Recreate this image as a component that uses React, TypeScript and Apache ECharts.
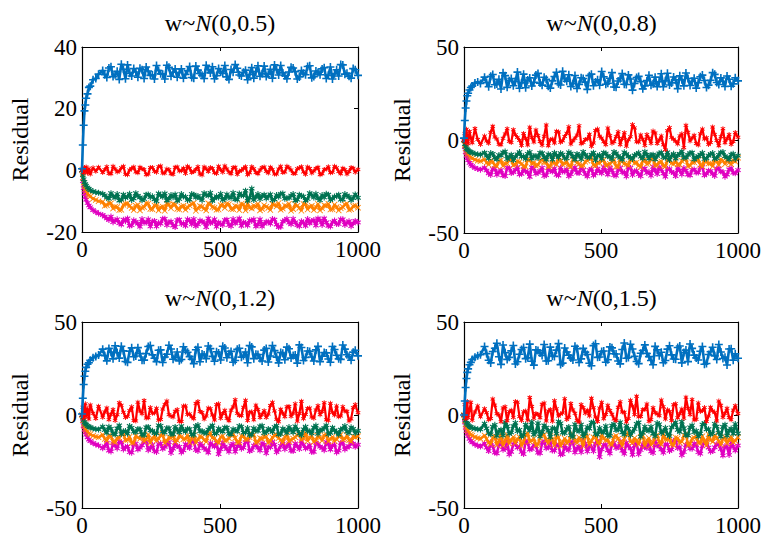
import React, { useEffect, useRef } from "react";
import * as echarts from "echarts";

// sample positions (iteration index), set A
const X = [
  0, 3, 6, 9, 12, 15, 20, 25, 30, 40, 50, 60,
  75, 90, 105, 120, 135, 150, 165, 180, 195, 210,
  225, 240, 255, 270, 285, 300, 315, 330, 345, 360,
  375, 390, 405, 420, 435, 450, 465, 480, 495, 510,
  525, 540, 555, 570, 585, 600, 615, 630, 645, 660,
  675, 690, 705, 720, 735, 750, 765, 780, 795, 810,
  825, 840, 855, 870, 885, 900, 915, 930, 945, 960,
  975, 990, 1000,
];
// sample positions, set B (between the plateau samples of set A)
const XB = [
  82.5, 97.5, 112.5, 127.5, 142.5, 157.5, 172.5, 187.5, 202.5, 217.5,
  232.5, 247.5, 262.5, 277.5, 292.5, 307.5, 322.5, 337.5, 352.5, 367.5,
  382.5, 397.5, 412.5, 427.5, 442.5, 457.5, 472.5, 487.5, 502.5, 517.5,
  532.5, 547.5, 562.5, 577.5, 592.5, 607.5, 622.5, 637.5, 652.5, 667.5,
  682.5, 697.5, 712.5, 727.5, 742.5, 757.5, 772.5, 787.5, 802.5, 817.5,
  832.5, 847.5, 862.5, 877.5, 892.5, 907.5, 922.5, 937.5, 952.5, 967.5,
  982.5,
];

const X_TICKS = [0, 500, 1000];
const TITLES = ["(0,0.5)", "(0,0.8)", "(0,1.2)", "(0,1.5)"];
const Y_RANGES = [
  [-20, 40, 20],
  [-50, 50, 50],
  [-50, 50, 50],
  [-50, 50, 50],
];

// ---------- panel 1: w~N(0,0.5) ----------
const P1_BLUE = [
  0.5, 8.2, 14.6, 19.3, 21.2, 23.4, 24.8, 26.9, 27.3, 29.4, 29.8, 31.2,
  32.4, 30.1, 33.6, 31.0, 29.5, 32.8, 34.2, 30.6, 31.9, 33.1,
  29.8, 32.2, 30.9, 34.0, 31.3, 29.6, 33.4, 31.8, 30.2, 32.9,
  31.1, 33.7, 29.9, 32.5, 30.8, 34.1, 31.6, 29.7, 33.0, 31.4,
  30.3, 32.7, 34.3, 30.9, 31.8, 29.4, 33.3, 32.0, 30.5, 33.8,
  31.2, 29.9, 32.6, 34.0, 30.7, 31.9, 33.2, 29.6, 32.4, 31.0,
  33.9, 30.4, 31.7, 32.9, 29.8, 33.5, 31.3, 30.6, 34.2, 31.5,
  29.9, 32.6, 30.8,
];
const P1_BLUE_B = [
  31.0, 33.2, 30.4, 32.1, 34.4, 29.7, 31.5, 33.0, 30.2, 32.6,
  33.5, 30.8, 29.6, 32.4, 31.2, 34.1, 30.5, 32.9, 31.7, 29.9,
  32.3, 30.1, 33.8, 31.4, 29.8, 32.7, 33.6, 30.7, 31.9, 34.0,
  29.5, 31.8, 33.1, 30.6, 32.5, 31.1, 29.9, 33.9, 31.3, 30.4,
  32.8, 34.2, 30.9, 31.6, 29.7, 33.4, 32.0, 30.3, 31.5, 33.7,
  30.0, 32.2, 31.0, 33.3, 30.8, 29.6, 32.6, 34.3, 31.2, 30.5,
  33.0,
];
const P1_RED = [
  0, 0.6, -0.8, 0.9, -0.4, 1.1, -0.9, 0.5, -1.2, 0.8, -0.3, 1.0,
  -0.7, 1.2, -1.1, 0.4, -0.2, 1.3, -1.4, 0.6, -0.5, 1.0,
  0.3, -1.2, 0.9, -0.6, 1.4, -0.9, 0.2, -1.3, 1.1, -0.1,
  -1.0, 0.7, -0.4, 1.2, -1.5, 0.5, 0.9, -0.8, 1.3, -0.6,
  0.4, -1.1, 1.0, -0.3, 0.6, -1.4, 1.2, -0.7, 0.1, 1.1,
  -0.9, 0.3, -1.2, 1.3, -0.5, 0.8, -1.0, 0.5, 1.2, -1.3,
  0.6, -0.2, 1.0, -1.1, 0.4, -0.8, 1.3, -0.4, 0.7, -1.2,
  0.9, -0.6, 0.3,
];
const P1_RED_B = [
  0.2, -1.0, 1.3, -0.5, 0.8, -1.3, 0.1, 1.1, -0.8, 0.5,
  -1.4, 0.9, -0.3, 1.2, -0.9, 0.4, -1.1, 1.0, -0.2, 0.7,
  1.3, -0.7, 0.3, -1.2, 1.1, -0.4, 0.6, -1.0, 0.2, 1.4,
  -0.6, 0.9, -1.3, 0.0, 1.2, -0.8, 0.5, -1.1, 0.9, -0.3,
  1.0, -1.2, 0.4, -0.7, 1.3, 0.1, -1.0, 0.8, -0.5, 1.1,
  -0.9, 0.6, -1.4, 0.3, 1.2, -0.6, 0.8, -1.1, 0.2, -0.4,
  0.7,
];
const P1_GREEN = [
  0, -1.6, -2.9, -3.8, -4.5, -5.0, -5.6, -6.0, -6.4, -6.8, -7.1, -7.3,
  -7.6, -8.8, -7.4, -8.9, -9.8, -7.9, -8.5, -9.6, -7.4, -8.8,
  -9.3, -7.8, -8.4, -10.0, -8.1, -7.5, -9.2, -8.7, -9.9, -7.7,
  -8.6, -9.5, -7.9, -8.3, -9.7, -8.0, -7.3, -9.1, -8.8, -9.6,
  -7.8, -8.9, -9.4, -7.5, -8.2, -9.9, -5.9, -8.6, -9.3, -7.9,
  -8.4, -9.7, -8.0, -7.6, -9.2, -8.9, -7.7, -9.5, -8.3, -9.8,
  -7.4, -8.8, -9.1, -8.0, -7.6, -9.6, -8.5, -7.9, -9.4, -8.2,
  -9.7, -7.8, -8.9,
];
const P1_GREEN_B = [
  -8.1, -9.2, -8.4, -7.7, -9.5, -8.9, -7.6, -9.1, -8.3, -9.7,
  -7.9, -8.7, -9.4, -7.5, -8.6, -9.8, -8.0, -7.8, -9.3, -8.5,
  -9.6, -7.7, -8.8, -9.0, -7.4, -8.2, -9.9, -8.4, -7.6, -9.2,
  -8.7, -7.3, -9.5, -8.1, -6.6, -8.9, -9.6, -7.7, -8.3, -9.1,
  -7.8, -9.4, -8.6, -7.5, -9.0, -8.2, -9.8, -7.9, -8.5, -9.3,
  -8.0, -7.6, -9.7, -8.8, -7.9, -9.2, -8.4, -9.5, -7.7, -8.6,
  -9.0,
];
const P1_ORANGE = [
  0, -2.4, -4.0, -5.1, -6.0, -6.7, -7.5, -8.1, -8.5, -9.2, -9.6, -10.0,
  -10.2, -11.3, -10.7, -11.8, -12.9, -11.2, -10.7, -12.2, -11.5, -13.0,
  -11.9, -10.8, -12.6, -11.3, -12.0, -13.1, -11.1, -10.9, -12.5, -11.7,
  -12.8, -11.4, -10.6, -12.3, -11.8, -13.0, -11.0, -12.1, -12.7, -11.2,
  -10.8, -12.5, -11.6, -12.9, -11.1, -10.7, -12.4, -11.9, -13.0, -11.3,
  -12.2, -10.9, -11.7, -12.8, -11.4, -10.8, -12.6, -11.5, -13.1, -11.0,
  -11.8, -12.9, -10.9, -12.3, -11.6, -12.7, -11.1, -13.0, -11.9, -10.8,
  -12.6, -11.4, -12.1,
];
const P1_ORANGE_B = [
  -11.5, -10.6, -12.4, -11.9, -12.8, -10.9, -11.6, -12.9, -11.2, -12.1,
  -10.7, -12.5, -11.4, -13.0, -11.8, -10.8, -12.3, -11.1, -12.7, -11.5,
  -12.0, -10.9, -13.1, -11.6, -12.4, -10.7, -11.9, -12.8, -11.3, -12.2,
  -11.0, -12.6, -11.7, -10.9, -13.0, -12.1, -11.4, -10.8, -12.5, -11.8,
  -12.9, -11.2, -10.6, -12.4, -11.7, -13.1, -11.0, -12.2, -10.9, -12.7,
  -11.5, -12.0, -13.0, -11.3, -10.8, -12.6, -11.9, -12.3, -11.1, -12.8,
  -11.6,
];
const P1_MAGENTA = [
  0, -3.5, -5.8, -7.4, -8.6, -9.5, -10.6, -11.4, -12.0, -12.9, -13.5, -14.0,
  -14.5, -15.6, -15.0, -16.3, -17.1, -16.0, -15.6, -17.8, -16.7, -18.3,
  -17.0, -15.9, -16.6, -18.2, -17.3, -15.7, -16.8, -17.9, -16.1, -17.4,
  -18.0, -16.3, -15.8, -17.5, -16.6, -18.4, -17.1, -15.9, -16.9, -17.7,
  -16.0, -18.1, -17.2, -15.6, -16.8, -17.9, -16.4, -18.2, -15.9, -17.3,
  -16.7, -15.8, -17.6, -18.3, -16.2, -17.0, -15.7, -17.8, -16.5, -18.0,
  -17.2, -16.1, -15.6, -17.7, -16.9, -18.2, -16.3, -17.4, -15.9, -17.0,
  -18.1, -16.4, -16.9,
];
const P1_MAGENTA_B = [
  -15.0, -16.1, -16.8, -15.9, -17.6, -16.5, -18.0, -16.2, -17.3, -15.8,
  -16.9, -18.2, -16.4, -17.0, -15.7, -17.8, -16.6, -18.4, -16.0, -17.2,
  -15.9, -17.5, -18.1, -16.3, -17.0, -15.6, -16.8, -18.3, -17.4, -16.1,
  -17.7, -15.8, -16.5, -18.0, -17.1, -16.2, -15.9, -17.6, -18.2, -16.7,
  -17.3, -16.0, -18.4, -16.6, -15.7, -17.5, -16.9, -18.1, -17.0, -15.8,
  -16.4, -17.9, -16.2, -15.6, -18.0, -16.8, -17.4, -15.9, -17.7, -16.5,
  -17.2,
];

// ---------- panel 2: w~N(0,0.8) ----------
const P2_BLUE = [
  1.0, 10.5, 17.2, 21.0, 23.8, 25.1, 26.9, 28.2, 29.0, 30.6, 31.2, 30.4,
  33.8, 28.6, 35.2, 30.1, 27.4, 34.6, 31.9, 29.2, 36.5, 30.7,
  28.1, 33.4, 31.0, 35.8, 29.5, 32.7, 27.9, 34.1, 30.3, 36.9,
  31.6, 28.8, 34.7, 29.9, 33.1, 27.2, 35.4, 31.2, 29.4, 34.0,
  30.5, 36.2, 28.4, 32.9, 30.0, 35.0, 26.8, 33.6, 31.4, 29.1,
  34.8, 30.2, 28.7, 35.6, 31.8, 29.6, 33.9, 27.6, 32.4, 36.0,
  29.3, 33.2, 30.8, 34.9, 28.2, 32.1, 35.3, 29.8, 31.5, 34.4,
  28.9, 33.5, 31.8,
];
const P2_BLUE_B = [
  30.9, 34.3, 29.7, 32.6, 36.1, 28.3, 33.0, 31.5, 27.8, 35.4,
  32.2, 29.0, 34.9, 30.6, 33.7, 28.9, 31.8, 36.4, 29.6, 32.9,
  35.1, 30.3, 27.7, 33.5, 31.1, 34.6, 29.2, 32.4, 36.8, 30.0,
  33.2, 28.5, 31.7, 35.7, 29.8, 32.8, 30.4, 34.2, 27.5, 31.9,
  29.4, 33.8, 31.3, 28.6, 35.9, 30.7, 32.3, 34.5, 29.1, 33.1,
  31.6, 27.9, 34.0, 32.0, 29.5, 36.2, 30.9, 33.4, 28.8, 32.7,
  30.2,
];
const P2_RED = [
  0, 3.5, -1.2, 5.8, 0.4, -2.0, 4.6, 1.1, -1.5, 6.2, 0.3, -2.4,
  2.1, -1.8, 7.4, 0.5, -2.6, 3.2, -0.7, 5.5, 1.4, -3.0,
  0.8, 6.9, -1.1, 2.4, -2.8, 8.1, 0.2, -1.6, 4.3, -0.4,
  3.6, -2.2, 1.0, 7.6, -1.3, 0.6, -3.4, 5.1, 2.0, -0.9,
  6.4, -1.7, 1.8, -2.5, 3.9, 0.1, 8.3, -1.0, 2.7, -2.9,
  0.9, 4.8, -1.9, 2.2, -5.2, 6.7, 0.4, -2.1, 3.3, 7.9,
  -0.6, 2.5, -2.7, 5.9, 1.2, -1.4, 3.0, -3.1, 6.1, 0.7,
  -2.3, 4.0, 1.5,
];
const P2_RED_B = [
  -0.5, 4.2, 1.6, -2.3, 0.9, 6.1, -1.4, 2.8, -0.2, 3.5,
  -2.7, 1.3, 5.4, -0.8, 2.0, -3.1, 0.6, 4.7, -1.2, 1.9,
  7.1, -0.4, 2.6, -2.0, 0.3, 3.1, -1.6, 5.9, 1.0, -2.5,
  2.3, -0.9, 4.4, 0.8, -3.3, 1.7, 6.5, -1.1, 0.4, 2.9,
  -1.8, 3.8, 0.0, -2.6, 5.0, 1.4, -0.7, 2.2, -4.1, 4.1,
  1.1, -1.9, 3.3, 0.5, -2.4, 7.0, -0.3, 1.8, -1.5, 3.0,
  -0.8,
];
const P2_GREEN = [
  0, -2.1, -3.6, -4.5, -5.0, -5.6, -6.2, -6.5, -6.9, -7.4, -7.7, -7.9,
  -6.8, -9.9, -7.5, -10.4, -8.3, -6.2, -9.1, -10.8, -7.7, -8.9,
  -10.1, -6.5, -8.6, -9.7, -7.1, -10.6, -8.0, -6.9, -9.4, -7.8,
  -9.8, -7.3, -10.5, -8.4, -6.4, -9.2, -7.9, -10.9, -8.1, -6.8,
  -8.7, -10.3, -7.2, -9.5, -6.6, -8.8, -10.2, -7.6, -9.0, -6.3,
  -10.0, -7.9, -8.5, -6.7, -9.6, -10.7, -7.4, -8.2, -6.1, -9.3,
  -7.0, -10.4, -8.8, -6.9, -9.9, -7.6, -10.1, -8.0, -6.5, -9.4,
  -7.8, -10.2, -8.4,
];
const P2_GREEN_B = [
  -8.4, -7.0, -9.6, -8.1, -6.7, -10.2, -7.9, -9.0, -6.5, -8.8,
  -7.4, -10.0, -8.6, -6.9, -9.3, -7.7, -10.5, -8.2, -7.1, -9.8,
  -6.6, -8.9, -7.5, -10.3, -8.0, -9.4, -6.8, -8.5, -10.1, -7.3,
  -9.1, -6.4, -8.7, -10.6, -7.6, -9.5, -8.3, -6.9, -9.9, -7.8,
  -8.1, -10.4, -7.2, -9.2, -6.6, -8.6, -10.0, -7.5, -9.6, -8.0,
  -6.8, -9.3, -7.9, -10.2, -8.4, -7.0, -9.7, -6.7, -8.8, -10.5,
  -7.4,
];
const P2_ORANGE = [
  0, -2.8, -4.6, -5.9, -6.9, -7.6, -8.5, -9.3, -9.9, -10.6, -11.1, -11.4,
  -10.4, -13.2, -11.8, -14.1, -10.9, -12.6, -9.8, -13.7, -11.4, -12.9,
  -14.3, -10.7, -12.2, -13.5, -10.2, -11.9, -14.0, -12.5, -9.9, -13.1,
  -11.6, -14.4, -10.5, -12.8, -13.6, -11.1, -9.6, -13.9, -12.3, -10.8,
  -13.3, -11.7, -14.2, -10.3, -12.7, -13.8, -11.0, -12.1, -14.5, -10.6,
  -12.4, -9.7, -13.4, -11.5, -14.1, -10.9, -12.9, -13.2, -11.3, -10.1,
  -13.7, -12.0, -10.4, -14.3, -11.8, -12.6, -9.9, -13.5, -11.2, -10.7,
  -13.0, -11.6, -9.5,
];
const P2_ORANGE_B = [
  -12.2, -10.9, -13.6, -11.3, -14.0, -12.5, -10.6, -13.1, -11.8, -14.2,
  -10.3, -12.7, -13.9, -11.5, -12.0, -14.4, -10.8, -13.3, -11.1, -12.6,
  -13.8, -10.5, -12.3, -14.1, -11.7, -10.1, -13.5, -12.1, -11.0, -13.7,
  -12.8, -10.7, -14.3, -11.6, -13.0, -10.4, -12.4, -13.8, -11.2, -12.9,
  -10.2, -13.6, -11.9, -14.0, -10.9, -12.5, -11.4, -13.2, -10.6, -14.1,
  -12.0, -11.1, -13.4, -10.8, -12.7, -14.2, -11.5, -10.3, -13.0, -12.2,
  -11.0,
];
const P2_MAGENTA = [
  0, -3.9, -6.5, -8.4, -9.8, -10.9, -12.3, -13.3, -14.0, -15.0, -15.6, -16.0,
  -14.8, -17.9, -15.6, -18.7, -16.2, -19.4, -15.1, -17.3, -14.5, -18.2,
  -16.8, -19.8, -15.4, -17.6, -14.9, -18.9, -16.5, -15.2, -19.1, -17.0,
  -15.8, -18.4, -14.7, -17.8, -16.1, -19.6, -15.5, -18.0, -16.9, -14.6,
  -18.6, -16.3, -19.2, -15.0, -17.4, -14.8, -18.8, -16.6, -19.5, -15.3,
  -17.1, -14.4, -18.3, -16.0, -19.7, -15.7, -17.7, -14.9, -18.5, -16.4,
  -19.0, -15.9, -17.5, -14.6, -18.1, -16.7, -19.3, -15.4, -17.2, -18.6,
  -15.1, -17.9, -16.2,
];
const P2_MAGENTA_B = [
  -16.4, -18.8, -15.3, -17.2, -19.0, -14.9, -17.8, -16.0, -18.5, -15.6,
  -17.4, -14.7, -18.1, -16.7, -19.3, -15.2, -17.0, -18.7, -14.8, -16.9,
  -19.5, -15.9, -17.6, -14.5, -18.3, -16.2, -19.1, -15.4, -17.9, -16.6,
  -14.9, -18.9, -16.1, -17.3, -19.6, -15.0, -16.8, -18.4, -15.7, -17.7,
  -19.2, -16.4, -14.6, -18.0, -15.5, -17.1, -19.4, -16.3, -15.1, -18.6,
  -16.0, -17.5, -14.8, -19.0, -16.5, -18.2, -15.3, -17.0, -19.7, -15.8,
  -17.6,
];

// ---------- panel 3: w~N(0,1.2) ----------
const P3_BLUE = [
  0.5, 9.0, 16.4, 20.8, 23.5, 25.6, 27.3, 28.1, 29.4, 30.8, 31.5, 32.2,
  35.4, 29.1, 33.8, 37.2, 30.6, 34.5, 28.3, 36.1, 31.7, 33.0,
  29.5, 36.8, 32.3, 28.7, 35.0, 31.2, 37.5, 30.0, 33.9, 29.8,
  34.7, 31.4, 27.6, 36.4, 32.8, 30.3, 35.7, 28.9, 33.3, 37.0,
  30.8, 34.2, 29.3, 35.9, 31.9, 28.1, 36.6, 32.6, 30.4, 34.9,
  28.5, 37.3, 31.1, 33.6, 29.7, 35.6, 32.0, 27.9, 36.3, 30.9,
  34.1, 29.0, 36.9, 31.6, 33.4, 28.4, 35.2, 30.2, 37.6, 32.4,
  29.4, 34.8, 31.8,
];
const P3_BLUE_B = [
  31.9, 35.8, 30.2, 33.5, 37.0, 28.8, 34.3, 31.3, 36.2, 29.4,
  33.1, 37.4, 30.5, 34.8, 28.2, 32.7, 35.5, 31.0, 29.1, 36.7,
  33.7, 30.0, 35.1, 28.6, 32.2, 37.1, 31.5, 34.0, 29.6, 36.0,
  32.9, 28.4, 35.3, 31.1, 33.9, 37.3, 30.3, 32.5, 29.0, 35.8,
  31.7, 34.6, 28.0, 33.2, 36.5, 30.6, 32.3, 37.7, 29.3, 34.4,
  31.2, 35.0, 28.7, 33.6, 30.1, 36.8, 32.1, 29.9, 35.4, 31.4,
  33.8,
];
const P3_RED = [
  0, 4.2, -1.6, 2.8, 6.0, -0.8, 3.3, -2.2, 5.4, 0.9, -1.9, 4.7,
  -1.2, 3.8, 0.4, -2.9, 6.6, 1.5, -0.7, 4.4, -3.2, 2.1,
  7.8, -1.5, 0.9, 3.6, -2.4, 5.7, 0.2, -1.1, 2.9, -3.5,
  4.9, 0.6, -2.0, 7.2, 1.3, -0.5, 3.4, -2.7, 6.0, 0.8,
  -1.8, 2.6, 8.2, -0.3, 4.1, -3.0, 1.7, 5.3, -1.4, 2.3,
  0.5, 6.8, -2.3, 3.1, -0.9, 4.6, 1.0, -3.3, 7.4, 0.3,
  3.7, -1.7, 5.0, 1.9, -2.6, 6.3, 0.0, -1.0, 4.5, 2.0,
  -2.1, 5.6, 1.2,
];
const P3_RED_B = [
  1.6, -2.5, 3.0, 0.1, 5.2, -1.3, 2.4, -3.0, 6.9, 0.7,
  -1.6, 4.0, 1.1, -2.8, 3.2, 7.5, -0.6, 2.0, -3.4, 4.8,
  0.3, -1.0, 6.2, 1.9, -2.2, 3.7, 0.0, 5.6, -1.8, 2.5,
  -3.1, 4.3, 0.9, -0.4, 7.9, 1.5, -2.6, 3.0, 0.4, -1.3,
  5.1, 2.2, -3.6, 1.0, 4.4, -0.7, 6.0, 0.8, -2.0, 3.5,
  -1.1, 2.7, 0.2, 6.6, -2.9, 1.4, 4.9, -0.5, 2.1, -3.2,
  3.9,
];
const P3_GREEN = [
  0, -1.4, -2.7, -3.8, -4.6, -5.2, -5.9, -6.3, -6.7, -7.2, -7.6, -7.8,
  -6.2, -9.6, -7.4, -10.5, -5.6, -8.8, -10.1, -6.9, -9.2, -7.7,
  -10.8, -6.4, -8.5, -9.9, -5.8, -9.4, -7.1, -10.3, -8.0, -6.0,
  -9.0, -7.6, -10.7, -5.4, -8.6, -9.8, -6.6, -10.0, -7.3, -8.9,
  -6.8, -10.4, -8.2, -5.9, -9.5, -7.0, -10.6, -8.4, -6.1, -9.7,
  -7.5, -9.1, -5.7, -10.2, -8.1, -6.5, -9.3, -7.8, -10.9, -6.3,
  -8.7, -6.7, -10.1, -7.9, -5.5, -9.6, -8.3, -10.5, -7.2, -9.0,
  -6.6, -9.8, -8.5,
];
const P3_GREEN_B = [
  -8.0, -6.3, -9.9, -7.2, -10.3, -8.6, -5.9, -9.0, -7.5, -10.6,
  -6.6, -8.3, -9.7, -5.5, -8.9, -7.0, -10.2, -6.4, -9.3, -8.1,
  -7.4, -10.5, -6.0, -8.7, -9.5, -7.8, -5.6, -9.8, -8.4, -6.7,
  -10.1, -7.6, -8.8, -6.2, -9.4, -10.7, -7.1, -8.5, -5.8, -9.1,
  -8.2, -6.5, -10.4, -7.3, -9.6, -8.0, -6.1, -10.0, -7.7, -8.6,
  -9.9, -5.7, -8.3, -7.0, -10.3, -6.8, -9.2, -7.9, -5.9, -9.7,
  -7.5,
];
const P3_ORANGE = [
  0, -2.7, -4.8, -6.1, -7.3, -8.1, -9.0, -9.8, -10.4, -11.2, -11.7, -12.0,
  -10.6, -13.8, -11.5, -14.7, -12.2, -9.9, -13.4, -15.0, -11.1, -12.8,
  -14.1, -10.4, -12.5, -13.9, -11.0, -15.2, -12.0, -10.2, -13.6, -11.7,
  -12.9, -14.8, -10.7, -13.1, -11.8, -14.4, -9.6, -12.6, -15.1, -11.3,
  -13.7, -10.9, -12.3, -14.6, -11.4, -13.0, -10.1, -14.9, -12.4, -11.6,
  -15.0, -12.1, -10.5, -13.5, -11.9, -14.2, -12.7, -10.8, -13.3, -9.4,
  -12.2, -14.5, -11.2, -13.8, -10.6, -12.9, -14.0, -11.5, -13.2, -10.9,
  -14.3, -12.0, -11.4,
];
const P3_ORANGE_B = [
  -12.9, -11.0, -14.3, -12.4, -10.3, -13.6, -11.7, -14.8, -12.1, -10.6,
  -13.2, -15.0, -11.4, -12.7, -10.0, -13.9, -12.3, -14.5, -11.1, -13.0,
  -10.8, -12.6, -14.9, -11.5, -13.4, -10.4, -12.2, -14.1, -11.8, -13.7,
  -12.5, -10.2, -14.6, -11.3, -13.1, -12.0, -10.7, -14.4, -12.8, -11.6,
  -13.8, -11.0, -12.4, -14.7, -10.5, -13.3, -11.9, -9.8, -12.6, -14.0,
  -11.2, -13.5, -12.1, -10.9, -14.2, -11.7, -13.0, -10.6, -12.9, -13.6,
  -11.5,
];
const P3_MAGENTA = [
  0, -3.5, -6.0, -7.9, -9.4, -10.6, -12.0, -13.2, -14.0, -15.1, -15.8, -16.4,
  -17.9, -15.0, -19.6, -16.4, -14.2, -18.5, -16.9, -20.3, -15.5, -17.6,
  -13.8, -18.9, -16.1, -19.9, -15.3, -17.2, -14.6, -18.1, -16.7, -20.1,
  -15.7, -17.8, -14.0, -19.3, -16.5, -18.7, -15.1, -17.0, -21.0, -14.8,
  -18.2, -16.3, -19.7, -15.4, -17.5, -13.9, -18.8, -16.0, -19.1, -15.9,
  -17.3, -14.4, -20.0, -16.6, -18.4, -15.2, -19.4, -16.8, -14.1, -18.0,
  -16.2, -19.8, -15.6, -17.7, -14.5, -18.6, -16.0, -19.2, -15.0, -17.4,
  -13.9, -17.1, -16.0,
];
const P3_MAGENTA_B = [
  -16.8, -19.1, -15.2, -18.0, -14.7, -17.4, -20.0, -15.8, -18.6, -16.3,
  -14.4, -17.7, -19.5, -15.6, -18.2, -16.0, -20.4, -14.9, -17.1, -19.0,
  -16.6, -14.3, -18.8, -15.4, -17.9, -20.2, -16.2, -14.8, -18.4, -17.0,
  -19.7, -15.5, -16.9, -18.1, -14.6, -19.4, -16.4, -17.6, -15.1, -20.5,
  -17.3, -15.9, -18.7, -14.2, -16.7, -19.2, -15.3, -18.3, -16.1, -17.5,
  -19.9, -14.9, -17.0, -18.9, -15.7, -16.5, -20.1, -15.0, -18.5, -16.9,
  -15.4,
];

// ---------- panel 4: w~N(0,1.5) ----------
const P4_BLUE = [
  0.0, 7.5, 14.8, 19.6, 22.9, 24.8, 27.0, 28.3, 29.8, 31.0, 31.9, 32.4,
  36.8, 29.4, 34.1, 38.6, 27.2, 33.5, 31.0, 37.4, 28.6, 35.2,
  30.3, 38.1, 26.8, 34.7, 32.0, 29.0, 36.5, 31.5, 38.4, 27.9,
  33.9, 30.6, 37.0, 28.2, 35.8, 32.5, 26.5, 38.3, 31.2, 34.4,
  29.7, 36.1, 32.8, 27.5, 38.7, 30.9, 35.5, 28.8, 33.2, 37.7,
  31.4, 27.0, 35.0, 33.7, 29.3, 37.2, 30.1, 36.3, 28.0, 34.9,
  38.2, 32.2, 29.6, 36.8, 27.7, 34.0, 31.8, 37.9, 30.4, 26.9,
  35.6, 32.9, 30.5,
];
const P4_BLUE_B = [
  33.0, 28.0, 35.9, 31.3, 37.6, 29.9, 34.5, 27.4, 32.7, 36.3,
  30.8, 28.9, 35.0, 33.4, 37.9, 29.2, 31.7, 34.9, 27.1, 36.0,
  32.1, 29.6, 35.7, 30.2, 33.8, 27.8, 37.3, 31.0, 34.1, 28.4,
  36.6, 32.9, 29.0, 35.2, 30.5, 38.0, 31.6, 27.6, 34.7, 33.1,
  29.3, 36.9, 31.9, 28.1, 35.4, 32.3, 30.0, 37.1, 33.6, 28.7,
  35.8, 30.7, 34.3, 27.3, 32.5, 36.4, 29.8, 33.9, 31.1, 35.5,
  29.5,
];
const P4_RED = [
  0, 5.6, -2.0, 3.1, 7.2, -1.4, 2.5, 6.8, -2.8, 1.6, 4.9, -1.0,
  3.4, -2.5, 8.6, 0.7, -3.6, 4.5, 1.8, -1.3, 6.9, -2.9,
  2.2, 9.4, -1.7, 0.3, 5.8, -3.2, 3.0, 7.7, -0.6, 1.1,
  -2.4, 6.2, 0.9, -3.8, 4.0, 2.6, 9.0, -1.1, 3.7, -2.0,
  5.2, 0.4, -3.0, 7.1, 1.5, -1.9, 4.8, 10.1, -0.8, 2.9,
  -3.4, 3.9, 0.6, 8.0, -2.2, 1.9, 5.5, -1.5, 3.2, 9.6,
  0.2, -2.7, 6.5, 2.4, -3.5, 4.2, 1.3, 7.5, -1.2, 3.6,
  -2.6, 5.0, 0.8,
];
const P4_RED_B = [
  1.2, -1.9, 5.3, 0.0, 3.8, -3.1, 2.6, 7.2, -0.9, 1.7,
  -2.8, 4.6, 0.8, -1.5, 6.4, 2.1, -3.3, 3.3, 0.5, 8.8,
  -1.2, 2.7, -2.9, 5.6, 1.0, -0.5, 3.9, -3.5, 6.8, 0.3,
  2.4, -2.1, 4.1, 1.6, -3.7, 7.9, 0.2, -1.0, 3.0, 5.9,
  -2.5, 1.3, -0.4, 4.5, 2.8, -3.0, 6.1, 0.7, -1.7, 3.6,
  8.4, -2.3, 1.9, 4.0, -0.6, 2.2, -3.2, 5.2, 0.9, -1.4,
  2.6,
];
const P4_GREEN = [
  0, -1.8, -3.0, -4.2, -4.8, -5.5, -6.1, -6.5, -7.0, -7.3, -7.6, -7.8,
  -4.6, -9.8, -6.3, -11.2, -7.9, -3.8, -10.1, -6.0, -8.7, -11.6,
  -5.2, -8.3, -10.6, -4.4, -9.1, -6.8, -11.9, -7.2, -3.5, -9.5,
  -7.6, -10.9, -5.0, -8.8, -11.4, -6.5, -4.1, -10.2, -7.0, -9.3,
  -11.0, -5.7, -8.1, -3.9, -10.5, -7.4, -9.0, -4.8, -11.7, -6.2,
  -8.5, -10.0, -4.3, -9.7, -6.9, -11.3, -5.4, -8.0, -3.6, -10.8,
  -6.6, -9.2, -11.5, -5.1, -7.7, -10.4, -4.7, -9.6, -6.4, -11.1,
  -7.3, -4.9, -9.9,
];
const P4_GREEN_B = [
  -7.2, -10.4, -5.3, -8.6, -11.0, -6.1, -9.4, -4.2, -8.0, -10.7,
  -6.7, -3.7, -9.0, -11.5, -5.6, -8.4, -7.0, -10.1, -4.5, -9.7,
  -6.4, -11.8, -8.2, -5.1, -9.9, -7.3, -3.8, -10.6, -8.9, -6.0,
  -11.2, -4.9, -7.8, -9.3, -5.8, -10.9, -7.5, -4.0, -9.6, -8.1,
  -6.3, -11.4, -5.0, -8.7, -10.3, -6.6, -3.9, -9.1, -7.1, -11.0,
  -5.5, -8.5, -10.0, -4.4, -7.6, -9.8, -6.2, -11.6, -5.2, -8.3,
  -10.1,
];
const P4_ORANGE = [
  0, -3.0, -5.2, -6.6, -7.8, -8.7, -9.7, -10.5, -11.1, -11.9, -12.4, -12.8,
  -11.0, -14.9, -12.3, -16.1, -10.2, -13.7, -15.4, -11.8, -13.0, -16.6,
  -10.6, -14.2, -12.7, -15.8, -9.8, -13.4, -11.3, -16.3, -12.1, -14.6,
  -15.2, -10.9, -13.9, -12.0, -16.8, -11.5, -14.0, -10.3, -15.6, -12.6,
  -13.3, -16.0, -11.1, -14.4, -12.9, -9.6, -15.0, -13.6, -11.7, -16.5,
  -12.4, -14.8, -10.7, -15.9, -13.1, -11.9, -16.2, -12.5, -14.3, -10.1,
  -15.5, -12.2, -14.7, -11.4, -16.4, -13.5, -10.8, -14.1, -12.8, -15.3,
  -11.6, -13.8, -12.0,
];
const P4_ORANGE_B = [
  -12.9, -15.6, -11.4, -14.0, -16.4, -10.5, -13.3, -15.1, -11.9, -14.5,
  -9.9, -13.8, -16.2, -12.2, -10.8, -15.3, -13.0, -11.6, -16.7, -12.6,
  -14.3, -10.1, -15.0, -13.4, -11.2, -16.0, -12.0, -14.8, -10.6, -13.7,
  -15.5, -11.8, -12.8, -16.6, -10.3, -14.1, -12.4, -15.8, -11.0, -13.6,
  -16.1, -11.5, -14.6, -10.0, -13.2, -15.7, -12.1, -14.9, -10.9, -16.3,
  -12.7, -11.3, -15.2, -13.9, -10.4, -14.4, -12.3, -16.0, -11.7, -13.1,
  -14.7,
];
const P4_MAGENTA = [
  0, -4.0, -6.8, -8.7, -10.1, -11.3, -12.8, -13.9, -14.7, -15.8, -16.5, -17.0,
  -15.2, -19.4, -16.8, -20.6, -14.3, -18.1, -21.2, -15.7, -17.5, -19.9,
  -13.8, -18.6, -16.2, -20.3, -15.0, -17.9, -14.6, -19.2, -16.5, -21.0,
  -18.3, -14.9, -20.1, -16.9, -13.5, -19.6, -17.2, -15.4, -22.6, -16.0,
  -19.0, -15.8, -17.7, -14.1, -20.8, -16.6, -21.4, -15.1, -18.8, -17.3,
  -14.7, -20.4, -16.3, -18.5, -15.6, -19.3, -13.9, -17.8, -21.6, -16.1,
  -18.0, -15.3, -20.0, -16.7, -14.4, -19.7, -17.4, -15.9, -21.8, -17.1,
  -14.8, -19.1, -16.4,
];
const P4_MAGENTA_B = [
  -17.6, -14.6, -20.2, -16.0, -18.7, -13.9, -19.8, -15.5, -17.0, -21.0,
  -15.1, -18.2, -16.6, -20.5, -14.2, -17.4, -19.1, -15.8, -21.3, -16.3,
  -18.9, -14.4, -17.9, -20.0, -15.3, -16.8, -19.5, -13.7, -18.4, -16.1,
  -20.7, -15.0, -17.3, -19.2, -14.8, -18.0, -16.4, -21.1, -15.6, -17.8,
  -19.6, -14.1, -16.9, -20.3, -15.9, -18.6, -13.6, -17.2, -19.9, -15.4,
  -18.1, -16.2, -20.8, -14.5, -17.5, -19.4, -15.7, -18.3, -16.7, -21.5,
  -17.0,
];

// [set A, set B] per series; series order: magenta, orange, green, red, blue
const PANEL_SERIES = [
  [[P1_MAGENTA, P1_MAGENTA_B], [P1_ORANGE, P1_ORANGE_B], [P1_GREEN, P1_GREEN_B], [P1_RED, P1_RED_B], [P1_BLUE, P1_BLUE_B]],
  [[P2_MAGENTA, P2_MAGENTA_B], [P2_ORANGE, P2_ORANGE_B], [P2_GREEN, P2_GREEN_B], [P2_RED, P2_RED_B], [P2_BLUE, P2_BLUE_B]],
  [[P3_MAGENTA, P3_MAGENTA_B], [P3_ORANGE, P3_ORANGE_B], [P3_GREEN, P3_GREEN_B], [P3_RED, P3_RED_B], [P3_BLUE, P3_BLUE_B]],
  [[P4_MAGENTA, P4_MAGENTA_B], [P4_ORANGE, P4_ORANGE_B], [P4_GREEN, P4_GREEN_B], [P4_RED, P4_RED_B], [P4_BLUE, P4_BLUE_B]],
];

const COLORS = ["#E000C0", "#FF8000", "#007352", "#FF0000", "#0070C0"];
const PLUS = "path://M4,0H6V4H10V6H6V10H4V6H0V4H4Z";
const CROSS = "path://M1,0L5,4L9,0L10,1L6,5L10,9L9,10L5,6L1,10L0,9L4,5L0,1Z";
const STAR = "path://M4.2,0H5.8V3.2L8.8,1.5L9.6,2.9L6.6,4.9L9.6,7.1L8.8,8.5L5.8,6.8V10H4.2V6.8L1.2,8.5L0.4,7.1L3.4,4.9L0.4,2.9L1.2,1.5L4.2,3.2Z";
const SYMBOLS = [STAR, CROSS, STAR, STAR, PLUS];
const SYMBOL_SIZES = [6, 6, 6, 5, 8];
const LINE_WIDTHS = [2.6, 2.6, 2.6, 2.2, 2.6];

const GRIDS = [
  { left: 82, top: 47, width: 276, height: 185 },
  { left: 464, top: 47, width: 275, height: 186 },
  { left: 82, top: 322, width: 276, height: 186 },
  { left: 464, top: 322, width: 275, height: 186 },
];

const FONT = "Liberation Serif";

function mergeSamples(a: number[], b: number[]) {
  const pts: number[][] = X.map((x, j) => [x, a[j]]);
  XB.forEach((x, j) => pts.push([x, b[j]]));
  pts.sort((p, q) => p[0] - q[0]);
  return pts;
}

export default function App() {
  const ref = useRef<HTMLDivElement>(null);

  useEffect(() => {
    if (!ref.current) return;
    const chart = echarts.init(ref.current, null, { renderer: "svg" });

    const xAxes: any[] = [];
    const yAxes: any[] = [];
    const series: any[] = [];
    const graphics: any[] = [];

    GRIDS.forEach((g, i) => {
      const [ymin, ymax, yint] = Y_RANGES[i];
      const lineStyle = { color: "#000", width: 1.2 };
      const tick = { show: true, inside: true, length: 4, lineStyle: { color: "#000", width: 1 } };
      const label = {
        show: true, color: "#000", fontFamily: FONT, fontSize: 23, margin: 6,
        formatter: (v: number) => String(v),
      };
      xAxes.push({
        type: "value", gridIndex: i, position: "bottom",
        min: X_TICKS[0], max: X_TICKS[X_TICKS.length - 1], interval: X_TICKS[1] - X_TICKS[0],
        axisLine: { show: true, onZero: false, lineStyle },
        axisTick: tick, axisLabel: label, splitLine: { show: false },
      });
      xAxes.push({
        type: "value", gridIndex: i, position: "top",
        min: X_TICKS[0], max: X_TICKS[X_TICKS.length - 1], interval: X_TICKS[1] - X_TICKS[0],
        axisLine: { show: true, onZero: false, lineStyle },
        axisTick: tick, axisLabel: { show: false }, splitLine: { show: false },
      });
      yAxes.push({
        type: "value", gridIndex: i, position: "left",
        min: ymin, max: ymax, interval: yint,
        name: "Residual", nameLocation: "middle", nameGap: 50,
        nameTextStyle: { color: "#000", fontFamily: FONT, fontSize: 24 },
        axisLine: { show: true, onZero: false, lineStyle },
        axisTick: tick, axisLabel: { ...label, margin: 5 }, splitLine: { show: false },
      });
      yAxes.push({
        type: "value", gridIndex: i, position: "right",
        min: ymin, max: ymax, interval: yint,
        axisLine: { show: true, onZero: false, lineStyle },
        axisTick: tick, axisLabel: { show: false }, splitLine: { show: false },
      });

      PANEL_SERIES[i].forEach(([a, b], k) => {
        series.push({
          type: "line",
          xAxisIndex: 2 * i,
          yAxisIndex: 2 * i,
          data: mergeSamples(a, b),
          symbol: SYMBOLS[k],
          symbolSize: SYMBOL_SIZES[k],
          showSymbol: true,
          lineStyle: { color: COLORS[k], width: LINE_WIDTHS[k] },
          itemStyle: { color: COLORS[k] },
          silent: true,
          z: 2 + k,
        });
      });

      graphics.push({
        type: "text",
        x: g.left + g.width / 2,
        y: g.top - 24,
        style: {
          text: `{a|w~}{b|N}{a|${TITLES[i]}}`,
          align: "center",
          verticalAlign: "middle",
          textAlign: "center",
          textVerticalAlign: "middle",
          fill: "#000",
          fontFamily: FONT,
          fontSize: 24,
          rich: {
            a: { fontFamily: FONT, fontSize: 24, fill: "#000", color: "#000" },
            b: { fontFamily: FONT, fontSize: 24, fontStyle: "italic", fill: "#000", color: "#000" },
          },
        },
      });
    });

    chart.setOption({
      animation: false,
      backgroundColor: "#fff",
      grid: GRIDS.map((g) => ({ ...g, containLabel: false })),
      xAxis: xAxes,
      yAxis: yAxes,
      series,
      graphic: graphics,
    });

    return () => chart.dispose();
  }, []);

  return (
    <div
      ref={ref}
      style={{ position: "fixed", left: 0, top: 0, width: 764, height: 537 }}
    />
  );
}
